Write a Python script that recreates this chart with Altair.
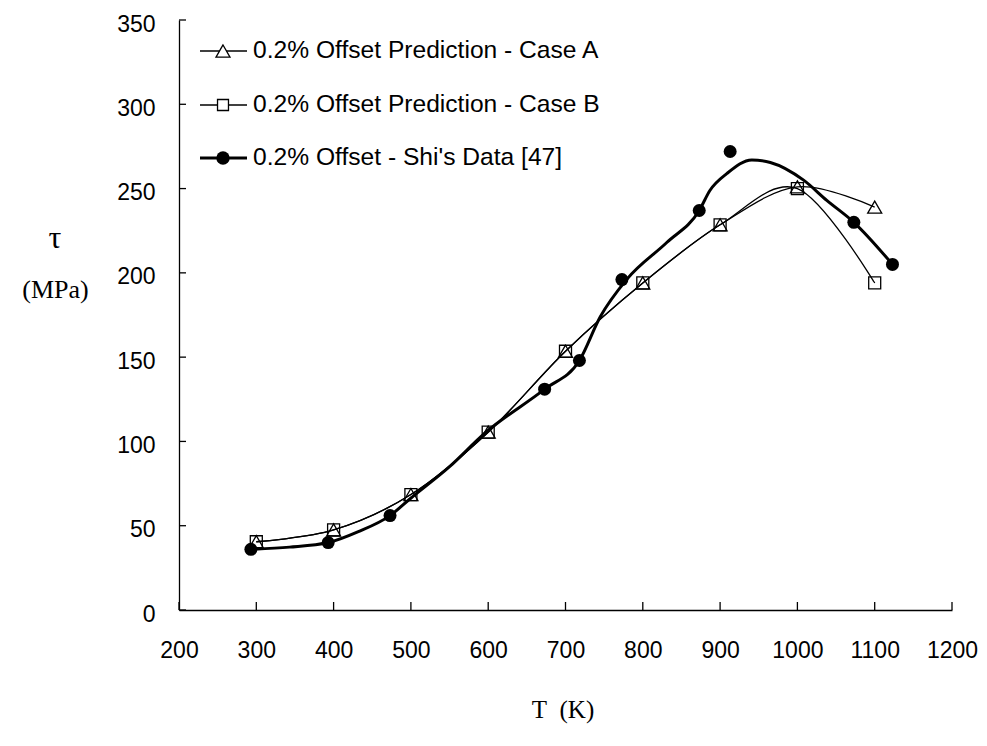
import altair as alt
import pandas as pd

# ---------------- data ----------------
T_pred = [300, 400, 500, 600, 700, 800, 900, 1000, 1100]
tau_caseA = [40.5, 47.5, 68.5, 105.5, 153.5, 194, 228.5, 251, 239]
tau_caseB = [40.5, 47.5, 68.5, 105.5, 153.5, 194, 228.5, 250, 194]

T_shi = [293, 393, 473, 673, 718, 773, 873, 913, 1073, 1123]
tau_shi = [36, 40, 56, 131, 148, 196, 237, 272, 230, 205]

# smoothed curve drawn through Shi's data
T_shi_curve = [293, 343, 393, 432, 473, 499, 550, 596, 673, 718, 745, 779, 831,
               873, 887, 909, 941, 965, 1008, 1038, 1073, 1123]
tau_shi_curve = [36, 37.3, 40, 46.5, 56, 66, 85, 105, 131, 148, 174, 196, 218,
                 237, 249, 259, 267, 265.5, 255, 243, 230, 205]

x_ticks = [200, 300, 400, 500, 600, 700, 800, 900, 1000, 1100, 1200]
y_ticks = [0, 50, 100, 150, 200, 250, 300, 350]

legend_labels = ["0.2% Offset Prediction - Case A",
                 "0.2% Offset Prediction - Case B",
                 "0.2% Offset - Shi's Data [47]"]
y_symbol = ["\u03c4"]

# ---------------- chart ----------------
W, H = 773, 590
SANS = "Liberation Sans"
SERIF = "Liberation Serif"

dfA = pd.DataFrame({"T": T_pred, "tau": tau_caseA})
dfB = pd.DataFrame({"T": T_pred, "tau": tau_caseB})
dfS = pd.DataFrame({"T": T_shi, "tau": tau_shi})
dfC = pd.DataFrame({"T": T_shi_curve, "tau": tau_shi_curve})
dfXT = pd.DataFrame({"T": x_ticks})
dfYT = pd.DataFrame({"tau": y_ticks})

xs = alt.Scale(domain=[200, 1200], nice=False, zero=False)
ys = alt.Scale(domain=[0, 350], nice=False, zero=True)

xaxis = alt.Axis(values=x_ticks, title="T\u00a0\u00a0(K)", titleFont=SERIF,
                 titleFontSize=25, titleFontWeight="normal", titleColor="black",
                 titleBaseline="alphabetic", titleY=107, titleX=W / 2 - 3,
                 labelPadding=29, labelFlush=False, labelOverlap=False,
                 format="d")
yaxis = alt.Axis(values=y_ticks, title="(MPa)", titleAngle=0,
                 titleAlign="center", titleBaseline="alphabetic",
                 titleX=-124, titleY=277, titleFont=SERIF, titleFontSize=26,
                 titleFontWeight="normal", titleColor="black",
                 labelPadding=24, labelOffset=4,
                 labelFlush=False, labelOverlap=False, format="d")

X = alt.X("T:Q", scale=xs, axis=xaxis)
Y = alt.Y("tau:Q", scale=ys, axis=yaxis)

lineA = alt.Chart(dfA).mark_line(color="black", strokeWidth=1.3,
                                 interpolate="cardinal").encode(x=X, y=Y)
lineB = alt.Chart(dfB).mark_line(color="black", strokeWidth=1.3,
                                 interpolate="cardinal").encode(x=X, y=Y)
lineS = alt.Chart(dfC).mark_line(color="black", strokeWidth=3,
                                 interpolate="monotone").encode(x=X, y=Y)

ptsA = alt.Chart(dfA).mark_point(shape="triangle-up", filled=False, color="black",
                                 strokeWidth=1.3, size=196, opacity=1).encode(x=X, y=Y)
ptsB = alt.Chart(dfB).mark_point(shape="square", filled=False, color="black",
                                 strokeWidth=1.3, size=144, opacity=1).encode(x=X, y=Y)
ptsS = alt.Chart(dfS).mark_point(shape="circle", filled=True, color="black",
                                 size=169, opacity=1).encode(x=X, y=Y)

xt = alt.Chart(dfXT).mark_rule(color="black", strokeWidth=1.3).encode(
    x=X, y=alt.value(H), y2=alt.value(H - 8))
yt = alt.Chart(dfYT).mark_rule(color="black", strokeWidth=1.3).encode(
    y=Y, x=alt.value(0), x2=alt.value(7))

tau_sym = alt.Chart(pd.DataFrame({"s": y_symbol})).mark_text(
    align="center", baseline="alphabetic", font=SERIF, fontSize=32,
    color="black").encode(x=alt.value(-124), y=alt.value(228), text="s:N")

# ---------------- legend (drawn inside plot) ----------------
leg_rows_y = [31, 85, 138]
leg_shapes = ["triangle-up", "square", "circle"]
leg_sizes = [196, 120, 180]
leg_filled = [False, False, True]
leg_widths = [1.3, 1.3, 3]
legend_layers = []
for i, lab in enumerate(legend_labels):
    d = pd.DataFrame({"label": [lab]})
    yv = leg_rows_y[i]
    legend_layers.append(
        alt.Chart(d).mark_rule(color="black", strokeWidth=leg_widths[i]).encode(
            x=alt.value(21), x2=alt.value(68), y=alt.value(yv)))
    legend_layers.append(
        alt.Chart(d).mark_point(shape=leg_shapes[i], filled=leg_filled[i],
                                color="black", strokeWidth=1.3,
                                fill="black" if leg_filled[i] else "white",
                                size=leg_sizes[i], opacity=1).encode(
            x=alt.value(44), y=alt.value(yv)))
    legend_layers.append(
        alt.Chart(d).mark_text(align="left", baseline="middle", font=SANS,
                               fontSize=24.6, color="black").encode(
            x=alt.value(74), y=alt.value(yv), text="label:N"))

chart = alt.layer(lineA, lineB, lineS, ptsA, ptsB, ptsS, xt, yt, tau_sym,
                  *legend_layers).properties(
    width=W, height=H,
    padding={"left": 179, "top": 20, "right": 35, "bottom": 136},
    autosize=alt.AutoSizeParams(type="none"),
    background="white",
).configure_view(stroke=None).configure_axis(
    domainColor="black", domainWidth=1.3, labelColor="black", labelFont=SANS,
    labelFontSize=23, grid=False, ticks=False, tickSize=0,
)

chart.save("out.html", embed_options={"renderer": "svg", "actions": False})
